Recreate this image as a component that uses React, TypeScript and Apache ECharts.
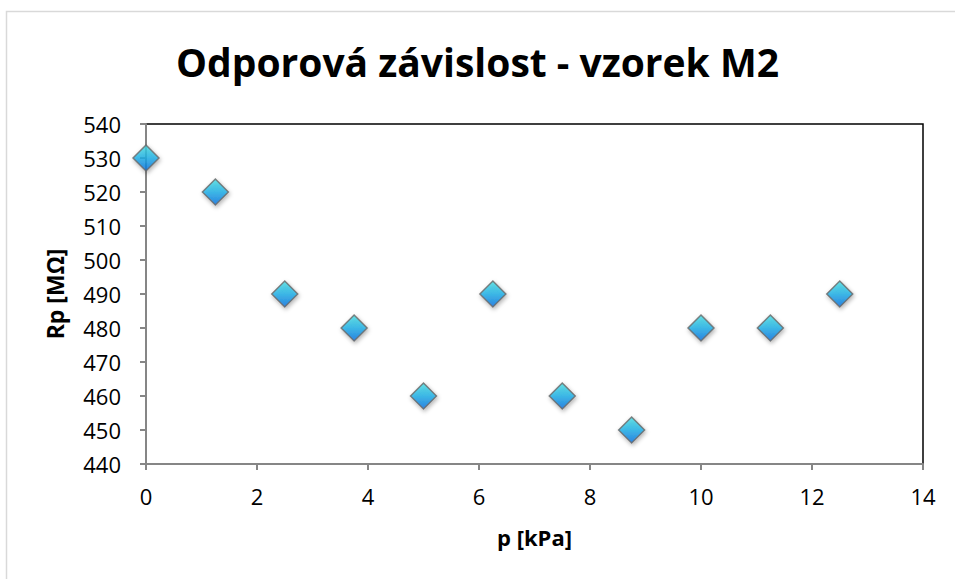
import React, { useEffect, useRef } from "react";
import * as echarts from "echarts";

const pressure = [0, 1.25, 2.5, 3.75, 5, 6.25, 7.5, 8.75, 10, 11.25, 12.5];
const resistance = [530, 520, 490, 480, 460, 490, 460, 450, 480, 480, 490];
const titleText = "Odporová závislost - vzorek M2";
const xName = "p [kPa]";
const yName = "Rp [MΩ]";

export default function App() {
  const ref = useRef<HTMLDivElement>(null);
  useEffect(() => {
    document.body.style.margin = "0";
    const chart = echarts.init(ref.current!, null, { renderer: "svg" });
    const font = "Open Sans, Noto Sans, sans-serif";
    chart.setOption({
      animation: false,
      backgroundColor: "#fff",
      title: {
        text: titleText,
        left: "center",
        top: 37,
        textStyle: { fontFamily: font, fontWeight: "bold", fontSize: 39, color: "#000" },
      },
      graphic: [
        {
          type: "rect",
          shape: { x: 6.5, y: 11.5, width: 1000, height: 700 },
          style: { fill: "none", stroke: "#d9d9d9", lineWidth: 1.5 },
          silent: true,
        },
      ],
      grid: {
        left: 146,
        right: 32,
        top: 124,
        bottom: 115,
        show: true,
        borderColor: "#000",
        borderWidth: 1.5,
      },
      xAxis: {
        type: "value",
        min: 0,
        max: 14,
        interval: 2,
        name: xName,
        nameLocation: "middle",
        nameGap: 62,
        nameTextStyle: { fontFamily: font, fontWeight: "bold", fontSize: 22, color: "#000" },
        axisLine: { show: true, lineStyle: { color: "#868686", width: 2 } },
        axisTick: { show: true, inside: false, length: 6, lineStyle: { color: "#868686", width: 2 } },
        axisLabel: { fontFamily: font, fontSize: 22, color: "#000", margin: 21 },
        splitLine: { show: false },
      },
      yAxis: {
        type: "value",
        min: 440,
        max: 540,
        interval: 10,
        name: yName,
        nameLocation: "middle",
        nameGap: 80,
        nameTextStyle: { fontFamily: font, fontWeight: "bold", fontSize: 23, color: "#000" },
        axisLine: { show: true, lineStyle: { color: "#868686", width: 2 } },
        axisTick: { show: true, inside: false, length: 6, lineStyle: { color: "#868686", width: 2 } },
        axisLabel: { fontFamily: font, fontSize: 22, color: "#000", margin: 25 },
        splitLine: { show: false },
      },
      series: [
        {
          type: "scatter",
          data: pressure.map((p, i) => [p, resistance[i]]),
          symbol: "diamond",
          symbolSize: [26, 26],
          itemStyle: {
            color: new echarts.graphic.LinearGradient(0, 0, 0, 1, [
              { offset: 0, color: "#45dde0" },
              { offset: 0.5, color: "#1cb0e8" },
              { offset: 1, color: "#0a6fe0" },
            ]),
            borderColor: "#666666",
            borderWidth: 1.5,
            shadowColor: "rgba(0,0,0,0.35)",
            shadowBlur: 4,
            shadowOffsetX: 1,
            shadowOffsetY: 2,
          },
        },
      ],
    });
    return () => chart.dispose();
  }, []);
  return <div ref={ref} style={{ width: 955, height: 579 }} />;
}
